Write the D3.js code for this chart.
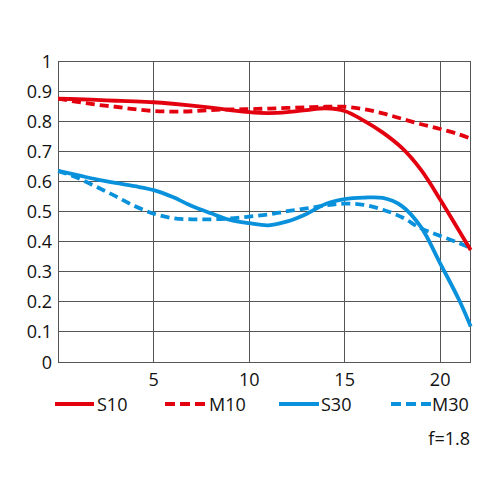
<!DOCTYPE html>
<html><head><meta charset="utf-8">
<script src="https://cdn.jsdelivr.net/npm/d3@7"></script>
<style>
html,body{margin:0;padding:0;background:#fff;}
svg{display:block;}
text{font-family:"Open Sans",sans-serif;fill:#111;}
</style></head>
<body>
<svg id="c" width="500" height="500"></svg>
<script>
const xs = [0,1,2,3,4,5,6,7,8,9,10,11,12,13,14,15,16,17,18,19,20,21,21.6];
const S10 = [0.875,0.873,0.871,0.868,0.866,0.863,0.858,0.852,0.845,0.837,0.830,0.827,0.830,0.837,0.843,0.834,0.802,0.762,0.711,0.638,0.540,0.435,0.372];
const M10 = [0.875,0.864,0.855,0.848,0.840,0.834,0.832,0.833,0.837,0.839,0.840,0.842,0.844,0.846,0.848,0.848,0.840,0.826,0.808,0.790,0.774,0.756,0.742];
const S30 = [0.635,0.621,0.607,0.595,0.584,0.571,0.548,0.518,0.494,0.472,0.461,0.454,0.467,0.492,0.525,0.541,0.546,0.545,0.518,0.448,0.328,0.205,0.118];
const M30 = [0.635,0.612,0.582,0.551,0.518,0.493,0.478,0.474,0.474,0.477,0.483,0.490,0.501,0.510,0.520,0.526,0.522,0.506,0.481,0.444,0.419,0.395,0.378];
const yTicks = [0,0.1,0.2,0.3,0.4,0.5,0.6,0.7,0.8,0.9,1];
const xTicks = [5,10,15,20];
const yLabels = ["0","0.1","0.2","0.3","0.4","0.5","0.6","0.7","0.8","0.9","1"];
const seriesNames = ["S10","M10","S30","M30"];
const RED = "#e3000f", BLUE = "#0a91dc";

const svg = d3.select("#c");
const L = 58.2, T = 61, R = 470.7, B = 362;
const x = d3.scaleLinear().domain([0,21.6]).range([L,R]);
const y = d3.scaleLinear().domain([0,1]).range([B,T]);

const grid = svg.append("g").attr("stroke","#555").attr("stroke-width",1).attr("shape-rendering","crispEdges");
yTicks.forEach(v=>grid.append("line").attr("x1",L).attr("x2",R).attr("y1",y(v)).attr("y2",y(v)));
xTicks.forEach(v=>grid.append("line").attr("y1",T).attr("y2",B).attr("x1",x(v)).attr("x2",x(v)));
grid.append("rect").attr("x",L).attr("y",T).attr("width",R-L).attr("height",B-T).attr("fill","none");

const fs = 18;
svg.append("g").selectAll("text").data(yTicks).join("text")
  .attr("x",52).attr("y",d=>y(d)+6.5).attr("text-anchor","end").attr("font-size",fs)
  .text((d,i)=>yLabels[i]);
svg.append("g").selectAll("text").data(xTicks).join("text")
  .attr("x",d=>x(d)).attr("y",385.5).attr("text-anchor","middle").attr("font-size",fs)
  .text(d=>d);

const line = d3.line().x((d,i)=>x(xs[i])).y(d=>y(d)).curve(d3.curveCatmullRom.alpha(0.5));
const series = [
  {name:"M30",data:M30,color:BLUE,dash:"9,5"},
  {name:"S30",data:S30,color:BLUE,dash:null},
  {name:"M10",data:M10,color:RED,dash:"9,5"},
  {name:"S10",data:S10,color:RED,dash:null}
];
series.forEach(s=>{
  svg.append("path").datum(s.data).attr("d",line).attr("fill","none")
    .attr("stroke",s.color).attr("stroke-width",3.8)
    .attr("stroke-dasharray",s.dash);
});

const leg = [
  {name:"S10",color:RED,dash:null,x1:55,x2:94,tx:97},
  {name:"M10",color:RED,dash:"10,5",x1:165,x2:206,tx:209},
  {name:"S30",color:BLUE,dash:null,x1:279,x2:319,tx:321},
  {name:"M30",color:BLUE,dash:"10,5",x1:391,x2:431,tx:432}
];
leg.forEach(l=>{
  svg.append("line").attr("x1",l.x1).attr("x2",l.x2).attr("y1",404).attr("y2",404)
    .attr("stroke",l.color).attr("stroke-width",4).attr("stroke-dasharray",l.dash);
  svg.append("text").attr("x",l.tx).attr("y",410.5).attr("font-size",fs).text(l.name);
});
svg.append("text").attr("x",470).attr("y",445).attr("text-anchor","end").attr("font-size",fs).text("f=1.8");
</script>
</body></html>
